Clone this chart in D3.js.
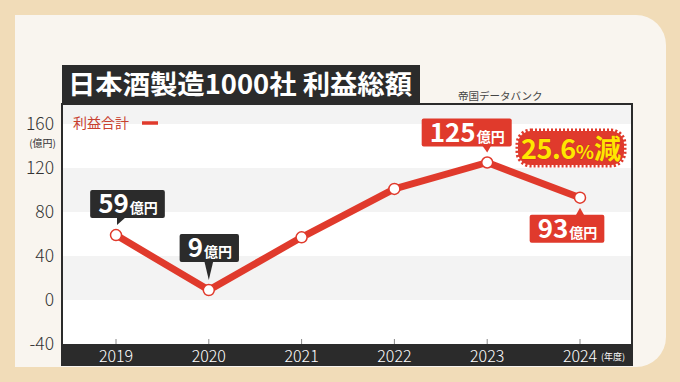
<!DOCTYPE html>
<html><head><meta charset="utf-8">
<script src="https://cdn.jsdelivr.net/npm/d3@7"></script>
<style>
html,body{margin:0;padding:0;background:#F1DCB8;}
svg{display:block;font-family:"Noto Sans CJK JP","Noto Sans",sans-serif;}
</style></head>
<body>
<svg id="c" width="680" height="382"></svg>
<script>
const years = ["2019","2020","2021","2022","2023","2024"];
const profit = [59, 9, 57, 101, 125, 93];
const yTicks = [-40, 0, 40, 80, 120, 160];
const labelYears = ["2019","2020","2023","2024"];
const titleText = "日本酒製造1000社 利益総額";
const sourceText = "帝国データバンク";
const legendText = "利益合計";
const unitText = "(億円)";
const xUnitText = "(年度)";
const changeText = ["25.6", "%", "減"];

const svg = d3.select("#c");
const RED = "#E03A2C", DARK = "#2B2B2B";

// panel
const P = {x:15, y:15, w:651, h:352, r:30};
svg.append("path").attr("fill","#F9F5EF")
  .attr("d", `M${P.x},${P.y} H${P.x+P.w-P.r} A${P.r},${P.r} 0 0 1 ${P.x+P.w},${P.y+P.r} V${P.y+P.h-P.r} A${P.r},${P.r} 0 0 1 ${P.x+P.w-P.r},${P.y+P.h} H${P.x} Z`);

const F = {l:62, r:632, t:104, b:365};
const x = d3.scalePoint().domain(years).range([116, 580]);
const y = d3.scaleLinear().domain([-40,160]).range([344,124]);

// plot background + bands
svg.append("rect").attr("x",F.l).attr("y",F.t).attr("width",F.r-F.l).attr("height",F.b-F.t).attr("fill","#fff");
const bandStarts = [0, 80, 160];
svg.append("g").selectAll("rect").data(bandStarts).join("rect")
  .attr("x",F.l).attr("width",F.r-F.l)
  .attr("y",d=>Math.max(F.t, y(d+40)))
  .attr("height",d=>y(d)-Math.max(F.t, y(d+40)))
  .attr("fill","#F3F3F3");

// x axis band
svg.append("rect").attr("x",F.l).attr("y",344).attr("width",F.r-F.l).attr("height",F.b-344).attr("fill",DARK);
// frame
svg.append("rect").attr("x",F.l).attr("y",F.t).attr("width",F.r-F.l).attr("height",F.b-F.t)
  .attr("fill","none").attr("stroke",DARK).attr("stroke-width",2);

// ticks
svg.append("g").selectAll("line").data(years).join("line")
  .attr("x1",d=>x(d)).attr("x2",d=>x(d)).attr("y1",339).attr("y2",344)
  .attr("stroke","#888").attr("stroke-width",1);
svg.append("g").selectAll("text").data(years).join("text")
  .attr("x",d=>x(d)).attr("y",362).attr("text-anchor","middle")
  .attr("fill","#fff").attr("font-size",16).attr("font-weight",300).text(d=>d);
svg.append("text").attr("x",x("2024")+21).attr("y",360).attr("fill","#fff")
  .attr("font-size",9).text(xUnitText);

// y labels
svg.append("g").selectAll("text").data(yTicks).join("text")
  .attr("x",54).attr("y",d=>y(d)+6).attr("text-anchor","end")
  .attr("fill","#333").attr("font-size",17.5).attr("font-weight",300).text(d=>d);
svg.append("text").attr("x",56).attr("y",147).attr("text-anchor","end")
  .attr("fill","#333").attr("font-size",10).text(unitText);

// title
svg.append("rect").attr("x",62).attr("y",65).attr("width",358).attr("height",40).attr("fill",DARK);
svg.append("text").attr("x",68).attr("y",94).attr("fill","#fff").attr("font-size",26.5)
  .attr("font-weight",700).attr("textLength",344).attr("lengthAdjust","spacingAndGlyphs").text(titleText);
svg.append("text").attr("x",458).attr("y",100).attr("fill","#444").attr("font-size",10.5).text(sourceText);

// legend
svg.append("text").attr("x",73).attr("y",128).attr("fill","#C8402F").attr("font-size",14).text(legendText);
svg.append("line").attr("x1",142).attr("x2",158).attr("y1",123).attr("y2",123).attr("stroke",RED).attr("stroke-width",3.5);

// line
const pts = years.map((yr,i)=>({yr, v:profit[i]}));
svg.append("path").datum(pts).attr("fill","none").attr("stroke",RED).attr("stroke-width",7)
  .attr("stroke-linejoin","round")
  .attr("d", d3.line().x(d=>x(d.yr)).y(d=>y(d.v)));
svg.append("g").selectAll("circle").data(pts).join("circle")
  .attr("cx",d=>x(d.yr)).attr("cy",d=>y(d.v)).attr("r",5.5)
  .attr("fill","#fff").attr("stroke",RED).attr("stroke-width",1.5);

// value labels
const cfg = {
  "2019": {fill:DARK, dx:11.5, above:true, gap:17, tail:"left", tdx:1},
  "2020": {fill:DARK, dx:0.5, above:true, gap:28, tail:"center", tdx:0},
  "2023": {fill:RED, dx:-20.5, above:true, gap:16, tail:"right", tdx:0},
  "2024": {fill:RED, dx:-13, above:false, gap:17, tail:"center", tdx:0}
};
labelYears.forEach(yr=>{
  const i = years.indexOf(yr), v = profit[i], c = cfg[yr];
  const px = x(yr), py = y(v);
  const g = svg.append("g");
  const t = g.append("text").attr("fill","#fff").attr("font-weight",700);
  t.append("tspan").attr("font-size",26).text(v);
  t.append("tspan").attr("font-size",14).attr("dx",1).text("億円");
  const w = t.node().getComputedTextLength() + 16;
  const h = 28;
  const cx = px + c.dx;
  const bx = cx - w/2;
  const by = c.above ? py - c.gap - h : py + c.gap;
  let tp;
  const tipY = c.above ? py - 10 : py + 10;
  const baseY = c.above ? by + h - 1 : by + 1;
  if (c.tail==="left") tp = [[px+c.tdx, baseY],[px+c.tdx+9, baseY],[px+c.tdx, tipY]];
  else if (c.tail==="right") tp = [[px-5, baseY],[px+4, baseY],[px, tipY]];
  else tp = [[px-4.5, baseY],[px+4.5, baseY],[px, tipY]];
  g.insert("path","text").attr("d", d3.line()(tp)+"Z").attr("fill",c.fill);
  g.insert("rect","path").attr("x",bx).attr("y",by).attr("width",w).attr("height",h).attr("rx",2).attr("fill",c.fill);
  t.attr("x",bx+8).attr("y",by+h/2+9);
});

// change badge
const bg = svg.append("g");
bg.append("rect").attr("x",518).attr("y",131).attr("width",106).attr("height",34).attr("rx",13)
  .attr("fill",RED).attr("stroke",RED).attr("stroke-width",5).attr("stroke-dasharray","2,2");
const sizes = [27, 19, 27];
const parts = changeText.map((s,k)=>bg.append("text").attr("y",159)
  .attr("fill","#FFE600").attr("font-weight",700).attr("stroke","#C8301F").attr("stroke-width",0.8)
  .attr("paint-order","stroke").attr("font-size",sizes[k])
  .attr("letter-spacing", k===0 ? -0.5 : 0).text(s));
const widths = parts.map(p=>p.node().getComputedTextLength());
const total = d3.sum(widths);
let cur = 571 - total/2;
parts.forEach((p,k)=>{ p.attr("x",cur); cur += widths[k]; });
</script>
</body></html>
